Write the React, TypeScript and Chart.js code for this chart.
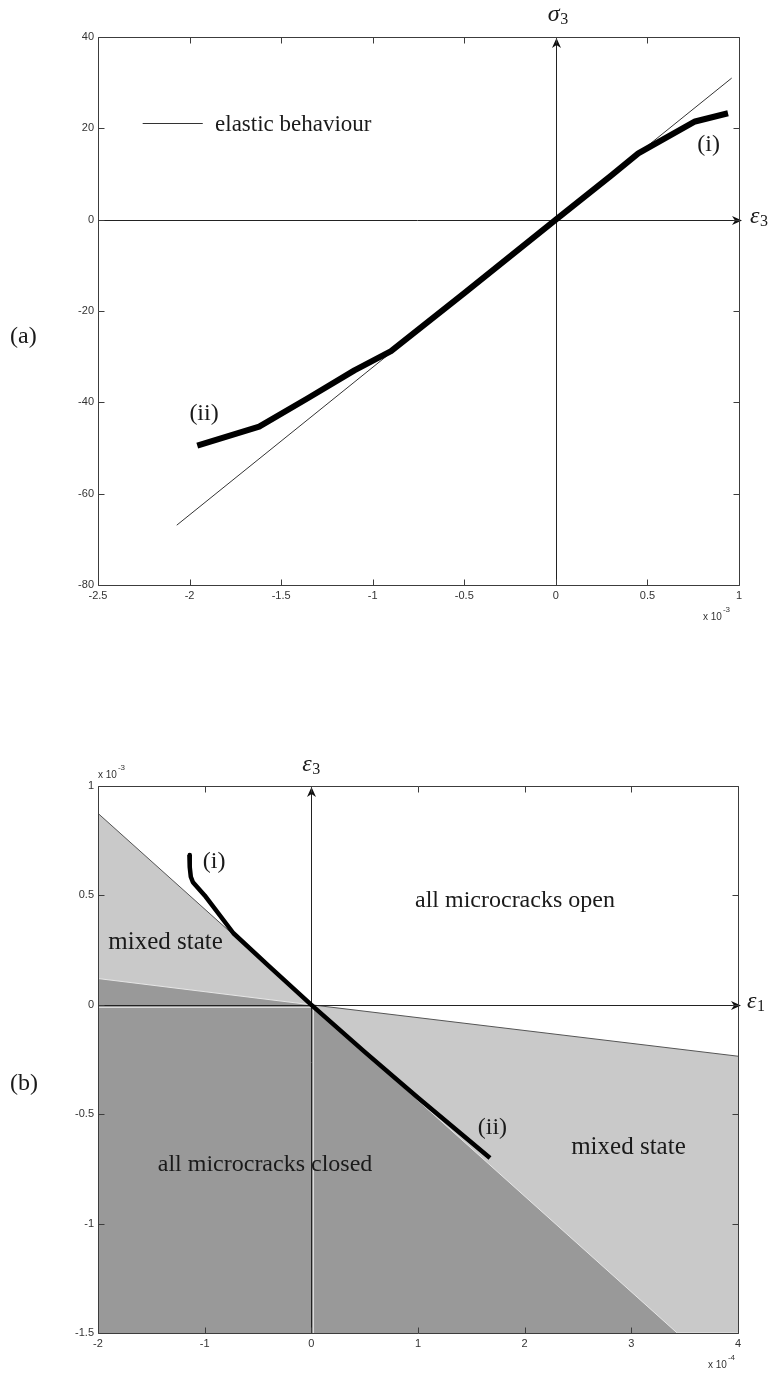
import React, { useEffect, useRef } from "react";
import { Chart, registerables } from "chart.js";

Chart.register(...registerables);

// ---------------- Panel (a): sigma_3 vs epsilon_3 ----------------
const aStrainTicks = [-2.5, -2, -1.5, -1, -0.5, 0, 0.5, 1]; // x 10^-3
const aStressTicks = [-80, -60, -40, -20, 0, 20, 40];
const elasticStrain = [-2.07, 0.96];
const elasticStress = [-66.9, 31.0];
const responseStrainA = [-1.958, -1.62, -1.35, -1.1, -0.9, -0.5, 0, 0.3, 0.45, 0.76, 0.94];
const responseStressA = [-49.5, -45.3, -39.0, -33.0, -28.8, -16.1, 0, 9.6, 14.5, 21.5, 23.3];

// ---------------- Panel (b): epsilon_3 vs epsilon_1 ----------------
const bE1Ticks = [-2, -1, 0, 1, 2, 3, 4]; // x 10^-4
const bE3Ticks = [-1.5, -1, -0.5, 0, 0.5, 1]; // x 10^-3
const mixedBoundE1 = [-2, 0, 4];
const mixedBoundE3 = [0.875, 0, -0.235];
const closedBoundE1 = [-2, 0, 3.43, 4];
const closedBoundE3 = [0.12, 0, -1.5, -1.5];
const responseE1 = [-1.143, -1.14, -1.13, -1.11, -1.0, -0.73, -0.4, 0, 0.5, 1.0, 1.675];
const responseE3 = [0.685, 0.63, 0.585, 0.56, 0.5, 0.327, 0.178, 0, -0.215, -0.425, -0.7];

const FRAME = "#3c3c3c";
const AXIS = "#222";
const TEXT = "#1a1a1a";
const TICK_TEXT = "#333";
const TICK = 6;
const SERIF = '"Liberation Serif", "DejaVu Serif", serif';
const SANS = '"Liberation Sans", Arial, sans-serif';

const pts = (xs: number[], ys: number[]) => xs.map((x, i) => ({ x, y: ys[i] }));

function linearAxis(ticks: number[], axis: "x" | "y", size: number) {
  return {
    type: "linear",
    min: ticks[0],
    max: ticks[ticks.length - 1],
    afterBuildTicks: (s: any) => {
      s.ticks = ticks.map((v) => ({ value: v }));
    },
    afterFit: (s: any) => {
      if (axis === "y") s.width = size;
      else s.height = size;
    },
    grid: { display: false, drawTicks: false },
    border: { display: false },
    ticks: {
      color: TICK_TEXT,
      font: { family: SANS, size: 11 },
      padding: 4,
      maxRotation: 0,
      autoSkip: false,
      callback: (v: any) => String(v),
    },
  };
}

function drawFrame(chart: any) {
  const { ctx, chartArea: a, scales } = chart;
  const xs = scales.x;
  const ys = scales.y;
  const L = Math.round(a.left) + 0.5;
  const R = Math.round(a.right) + 0.5;
  const T = Math.round(a.top) + 0.5;
  const B = Math.round(a.bottom) + 0.5;
  ctx.save();
  ctx.strokeStyle = FRAME;
  ctx.lineWidth = 1;
  ctx.beginPath();
  ctx.rect(L, T, R - L, B - T);
  xs.ticks.forEach((t: any) => {
    const px = Math.round(xs.getPixelForValue(t.value)) + 0.5;
    ctx.moveTo(px, B);
    ctx.lineTo(px, B - TICK);
    ctx.moveTo(px, T);
    ctx.lineTo(px, T + TICK);
  });
  ys.ticks.forEach((t: any) => {
    const py = Math.round(ys.getPixelForValue(t.value)) + 0.5;
    ctx.moveTo(L, py);
    ctx.lineTo(L + TICK, py);
    ctx.moveTo(R, py);
    ctx.lineTo(R - TICK, py);
  });
  ctx.stroke();
  ctx.restore();
}

function arrowHead(ctx: CanvasRenderingContext2D, x: number, y: number, dir: "up" | "right") {
  const len = 10;
  const hw = 4.5;
  const notch = 7;
  ctx.beginPath();
  if (dir === "right") {
    ctx.moveTo(x, y);
    ctx.lineTo(x - len, y - hw);
    ctx.lineTo(x - notch, y);
    ctx.lineTo(x - len, y + hw);
  } else {
    ctx.moveTo(x, y);
    ctx.lineTo(x - hw, y + len);
    ctx.lineTo(x, y + notch);
    ctx.lineTo(x + hw, y + len);
  }
  ctx.closePath();
  ctx.fill();
}

function drawOriginAxes(chart: any, whiteEdges: boolean) {
  const { ctx, chartArea: a, scales } = chart;
  const x0 = Math.round(scales.x.getPixelForValue(0)) + 0.5;
  const y0 = Math.round(scales.y.getPixelForValue(0)) + 0.5;
  ctx.save();
  if (whiteEdges) {
    ctx.strokeStyle = "rgba(240,240,240,0.75)";
    ctx.lineWidth = 1;
    ctx.beginPath();
    ctx.moveTo(a.left, y0 + 2);
    ctx.lineTo(x0, y0 + 2);
    ctx.moveTo(x0 + 2, y0 + 2);
    ctx.lineTo(x0 + 2, a.bottom);
    ctx.stroke();
  }
  ctx.strokeStyle = AXIS;
  ctx.fillStyle = "#111";
  ctx.lineWidth = 1;
  ctx.beginPath();
  ctx.moveTo(a.left, y0);
  ctx.lineTo(a.right - 2, y0);
  ctx.moveTo(x0, a.bottom);
  ctx.lineTo(x0, a.top + 6);
  ctx.stroke();
  arrowHead(ctx, a.right + 3, y0, "right");
  arrowHead(ctx, x0, a.top + 1, "up");
  ctx.restore();
}

function mathLabel(ctx: CanvasRenderingContext2D, base: string, sub: string, x: number, baseline: number) {
  ctx.save();
  ctx.fillStyle = TEXT;
  ctx.textAlign = "left";
  ctx.textBaseline = "alphabetic";
  ctx.font = `italic 24px ${SERIF}`;
  ctx.fillText(base, x, baseline);
  const w = ctx.measureText(base).width;
  ctx.font = `16px ${SERIF}`;
  ctx.fillText(sub, x + w + 0.5, baseline + 3);
  ctx.restore();
}

function expLabel(ctx: CanvasRenderingContext2D, x: number, midY: number, exp: string) {
  ctx.save();
  ctx.fillStyle = TICK_TEXT;
  ctx.textAlign = "left";
  ctx.textBaseline = "middle";
  ctx.font = `10px ${SANS}`;
  ctx.fillText("x 10", x, midY);
  const w = ctx.measureText("x 10").width;
  ctx.font = `8px ${SANS}`;
  ctx.fillText(exp, x + w + 1, midY - 7);
  ctx.restore();
}

function serifText(
  ctx: CanvasRenderingContext2D,
  text: string,
  x: number,
  y: number,
  size: number,
  align: CanvasTextAlign,
  baseline: CanvasTextBaseline
) {
  ctx.save();
  ctx.fillStyle = TEXT;
  ctx.font = `${size}px ${SERIF}`;
  ctx.textAlign = align;
  ctx.textBaseline = baseline;
  ctx.fillText(text, x, y);
  ctx.restore();
}

export default function App() {
  const refA = useRef<HTMLCanvasElement>(null);
  const refB = useRef<HTMLCanvasElement>(null);

  useEffect(() => {
    const pluginA = {
      id: "frameA",
      beforeDatasetsDraw(chart: any) {
        drawOriginAxes(chart, false);
      },
      afterDraw(chart: any) {
        const { ctx, chartArea: a, scales } = chart;
        const X = (v: number) => scales.x.getPixelForValue(v);
        const Y = (v: number) => scales.y.getPixelForValue(v);
        drawFrame(chart);
        // legend
        ctx.save();
        ctx.strokeStyle = "#333";
        ctx.lineWidth = 1;
        ctx.beginPath();
        ctx.moveTo(X(-2.256), Math.round(Y(21.2)) + 0.5);
        ctx.lineTo(X(-1.928), Math.round(Y(21.2)) + 0.5);
        ctx.stroke();
        ctx.restore();
        serifText(ctx, "elastic behaviour", X(-1.861), Y(19.4), 23, "left", "alphabetic");
        serifText(ctx, "(i)", X(0.834), Y(16.4), 24, "center", "middle");
        serifText(ctx, "(ii)", X(-1.921), Y(-42.5), 24, "center", "middle");
        serifText(ctx, "(a)", 10, 337, 24, "left", "middle");
        const x0 = X(0);
        const y0 = Y(0);
        mathLabel(ctx, "σ", "3", x0 - 8, a.top - 16);
        mathLabel(ctx, "ε", "3", a.right + 11, y0 + 3);
        expLabel(ctx, a.right - 36, a.bottom + 32, "-3");
      },
    };

    const chartA = new Chart(refA.current as HTMLCanvasElement, {
      type: "line",
      data: {
        datasets: [
          {
            label: "response",
            data: pts(responseStrainA, responseStressA),
            borderColor: "#000",
            borderWidth: 6,
            borderJoinStyle: "round",
            borderCapStyle: "butt",
            pointRadius: 0,
            tension: 0,
            fill: false,
            order: 0,
          },
          {
            label: "elastic behaviour",
            data: pts(elasticStrain, elasticStress),
            borderColor: "#333",
            borderWidth: 1,
            pointRadius: 0,
            tension: 0,
            fill: false,
            order: 1,
          },
        ],
      },
      options: {
        animation: false,
        responsive: false,
        devicePixelRatio: 1,
        layout: { padding: { top: 37, right: 31, left: 0, bottom: 0 } },
        plugins: { legend: { display: false }, tooltip: { enabled: false } },
        scales: {
          x: linearAxis(aStrainTicks, "x", 95),
          y: linearAxis(aStressTicks, "y", 98),
        } as any,
      },
      plugins: [pluginA],
    } as any);

    const pluginB = {
      id: "frameB",
      afterDatasetDraw(chart: any, args: any) {
        if (args.index === 1) drawOriginAxes(chart, true);
      },
      afterDraw(chart: any) {
        const { ctx, chartArea: a, scales } = chart;
        const X = (v: number) => scales.x.getPixelForValue(v);
        const Y = (v: number) => scales.y.getPixelForValue(v);
        drawFrame(chart);
        serifText(ctx, "(i)", X(-0.912), Y(0.653), 24, "center", "middle");
        serifText(ctx, "mixed state", X(-1.366), Y(0.254), 25, "center", "alphabetic");
        serifText(ctx, "all microcracks open", X(1.909), Y(0.448), 24, "center", "alphabetic");
        serifText(ctx, "all microcracks closed", X(-0.434), Y(-0.76), 24, "center", "alphabetic");
        serifText(ctx, "(ii)", X(1.698), Y(-0.563), 24, "center", "middle");
        serifText(ctx, "mixed state", X(2.973), Y(-0.683), 25, "center", "alphabetic");
        serifText(ctx, "(b)", 10, 404, 24, "left", "middle");
        const x0 = X(0);
        const y0 = Y(0);
        mathLabel(ctx, "ε", "3", x0 - 9, a.top - 15);
        mathLabel(ctx, "ε", "1", a.right + 9, y0 + 3);
        expLabel(ctx, a.left, a.top - 11, "-3");
        expLabel(ctx, a.right - 30, a.bottom + 32, "-4");
      },
    };

    const chartB = new Chart(refB.current as HTMLCanvasElement, {
      type: "line",
      data: {
        datasets: [
          {
            label: "response",
            data: pts(responseE1, responseE3),
            borderColor: "#000",
            borderWidth: 4.5,
            borderJoinStyle: "round",
            borderCapStyle: "butt",
            pointRadius: 0,
            tension: 0,
            fill: false,
            order: 0,
          },
          {
            label: "all microcracks closed",
            data: pts(closedBoundE1, closedBoundE3),
            borderColor: "#e6e6e6",
            borderWidth: 1,
            backgroundColor: "#999999",
            pointRadius: 0,
            tension: 0,
            fill: "start",
            order: 1,
          },
          {
            label: "mixed state",
            data: pts(mixedBoundE1, mixedBoundE3),
            borderColor: "#555",
            borderWidth: 1,
            backgroundColor: "#c9c9c9",
            pointRadius: 0,
            tension: 0,
            fill: "start",
            order: 2,
          },
        ],
      },
      options: {
        animation: false,
        responsive: false,
        devicePixelRatio: 1,
        layout: { padding: { top: 106, right: 32, left: 0, bottom: 0 } },
        plugins: { legend: { display: false }, tooltip: { enabled: false } },
        scales: {
          x: linearAxis(bE1Ticks, "x", 40),
          y: linearAxis(bE3Ticks, "y", 98),
        } as any,
      },
      plugins: [pluginB],
    } as any);

    return () => {
      chartA.destroy();
      chartB.destroy();
    };
  }, []);

  return (
    <div style={{ position: "absolute", left: 0, top: 0, width: 770, height: 1373, background: "#fff" }}>
      <canvas ref={refA} width={770} height={680} style={{ position: "absolute", left: 0, top: 0 }} />
      <canvas ref={refB} width={770} height={693} style={{ position: "absolute", left: 0, top: 680 }} />
    </div>
  );
}
